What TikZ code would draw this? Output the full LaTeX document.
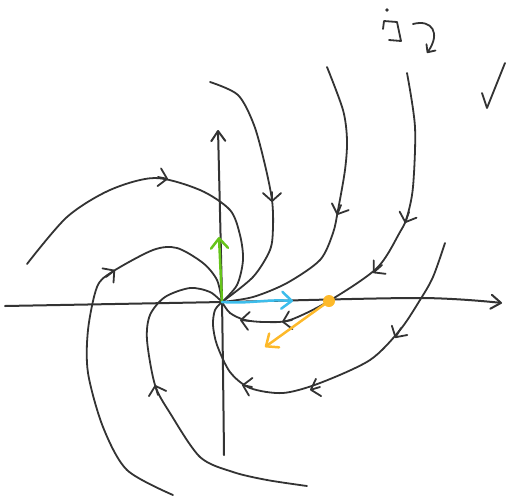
\documentclass[tikz,border=0pt]{standalone}
\usepackage{xcolor}
\usepackage{tikz}
\usetikzlibrary{arrows, arrows.meta, calc}
\definecolor{InkGray}{RGB}{51,51,51}
\definecolor{VecGreen}{HTML}{66C41A}
\definecolor{VecBlue}{HTML}{3DBDEB}
\definecolor{VecOrange}{HTML}{FDB92A}
\tikzset{
  >=latex,
  % Traiettorie
  traj/.style={line width=1.8pt,InkGray,line cap=round,line join=round},
  axis/.style={traj,line width=2pt,-{Straight Barb[length=10pt,width=14pt,round]}},
  flow tip/.style={traj,-{Straight Barb[length=8pt,width=18pt,round]}},
  % Vettori
  vec/.style={line width=2.5pt,line cap=round,-{Straight Barb[length=10pt,width=17pt,round]}},
  vec green/.style={vec,VecGreen},
  vec blue/.style={vec,VecBlue},
  vec orange/.style={vec,VecOrange}
}
\begin{document}
\begin{tikzpicture}[x=1pt,y=-1pt]
  \useasboundingbox (0,0) rectangle (506,499);
  \coordinate (O) at (222,302);
  \coordinate (xl) at (5,306);
  \coordinate (xr) at (502,303);
  \coordinate (yb) at (224,455);
  \coordinate (yt) at (218,130);
  \coordinate (P) at (329,301);
  \coordinate (g) at (219,237);
  \coordinate (b) at (293,301);
  \coordinate (q) at (265,347);
  \draw[axis] plot[smooth] coordinates {(xl) (O) (420,298) (xr)};
  \draw[axis] plot[smooth] coordinates {(yb) (O) (yt)};
  \draw[traj] plot[smooth] coordinates {(27,264) (67,217) (110,190) (155,178) (200,190) (230,210) (240,235) (243,260) (237,285) (O)};
  \draw[flow tip] (158,177) -- (168,179);
  \draw[traj] plot[smooth] coordinates {(173,495) (127,470) (103,427) (88,373) (88,330) (97,287) (112,272) (153,250) (177,248) (203,263) (217,280) (O)};
  \draw[flow tip] (106,277) -- (115,270);
  \draw[traj] plot[smooth] coordinates {(307,486) (267,480) (233,472) (200,457) (170,413) (155,385) (147,340) (150,315) (165,297) (190,288) (210,292) (O)};
  \draw[flow tip] (158,395) -- (155,385);
  \draw[traj] plot[smooth] coordinates {(445,243) (433,277) (420,300) (400,330) (370,360) (320,383) (283,393) (250,388) (230,372) (217,345) (213,325) (215,310) (O)};
  \draw[flow tip] (401,328) -- (395,338);
  \draw[flow tip] (320,387) -- (310,390);
  \draw[flow tip] (252,387) -- (242,385);
  \draw[traj] plot[smooth] coordinates {(407,73) (415,127) (413,187) (407,217) (400,232) (377,268) (P) (290,320) (265,322) (245,320) (230,313) (O)};
  \draw[flow tip] (409,212) -- (405,223);
  \draw[flow tip] (382,265) -- (373,273);
  \draw[flow tip] (292,320) -- (282,322);
  \draw[flow tip] (250,321) -- (240,320);
  \draw[traj] plot[smooth] coordinates {(327,67) (343,110) (347,140) (345,170) (338,210) (333,233) (320,260) (287,283) (253,297) (O)};
  \draw[flow tip] (341,205) -- (337,215);
  \draw[traj] plot[smooth] coordinates {(210,82) (238,95) (254,125) (265,165) (272,200) (273,227) (270,250) (253,277) (O)};
  \draw[flow tip] (272,192) -- (272,202);
  \draw[vec green] (O) -- (g);
  \draw[vec blue] (O) .. controls (250,304) and (265,299) .. (b);
  \fill[VecOrange] (P) circle (6);
  \draw[vec orange] (P) -- (q);
  \fill[InkGray] (387,10) circle (1.8);
  \draw[traj] (383,29) -- (384,21) -- (397,22) -- (401,41) -- (389,40);
  \draw[traj,-{Straight Barb[length=6pt,width=11pt,round]}] (413,24) .. controls (432,19) and (441,33) .. (427,53);
  \draw[traj] (482,93) -- (487,108) -- (505,63);
\end{tikzpicture}
\end{document}
